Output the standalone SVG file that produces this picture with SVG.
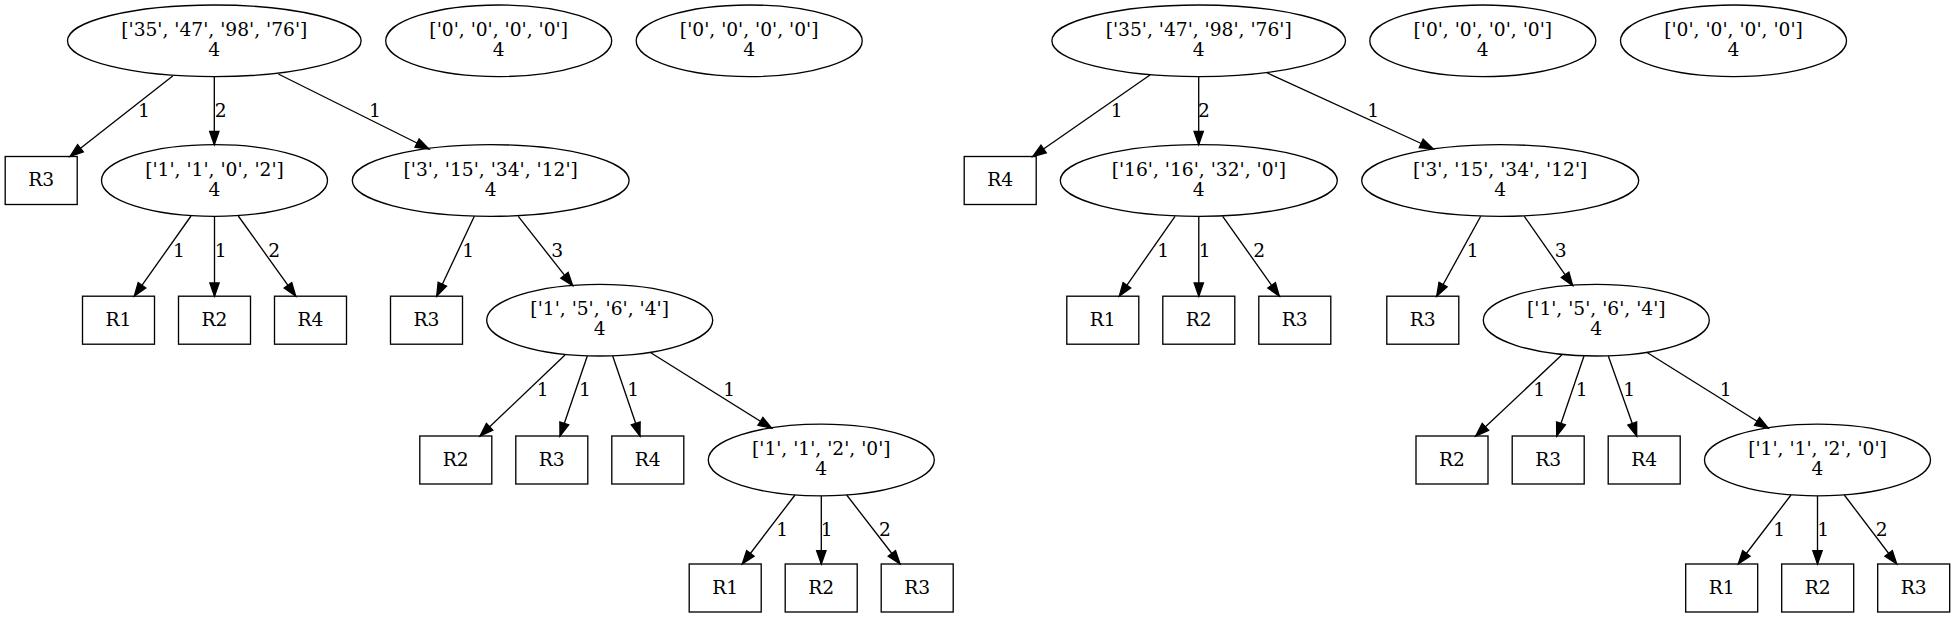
<svg xmlns="http://www.w3.org/2000/svg" width="1955" height="617" viewBox="0 0 1955 617">
<style>
.n ellipse, .n rect { fill: none; stroke: #000; stroke-width: 1.33; }
text { font-family: "DejaVu Serif", "Liberation Serif", serif; font-size: 18.67px; fill: #000; text-anchor: middle; }
.e line { stroke: #000; stroke-width: 1.33; marker-end: url(#arr); }
</style>
<defs>
<marker id="arr" markerUnits="userSpaceOnUse" markerWidth="18" markerHeight="14" refX="13.3" refY="4.67" orient="auto" overflow="visible">
<path d="M0,0 L13.3,4.67 L0,9.33 Z" fill="#000" stroke="#000" stroke-width="1.33"/>
</marker>
</defs>
<rect width="1955" height="617" fill="#fff"/>

<!-- Left tree -->
<g id="L_A" class="n"><ellipse cx="214.3" cy="40.8" rx="146.8" ry="35.8"/><text x="214.3" y="35.8">['35', '47', '98', '76']</text><text x="214.3" y="55.8">4</text></g>
<g id="L_Z1" class="n"><ellipse cx="498.7" cy="40.8" rx="113" ry="35.8"/><text x="498.7" y="35.8">['0', '0', '0', '0']</text><text x="498.7" y="55.8">4</text></g>
<g id="L_Z2" class="n"><ellipse cx="749.2" cy="40.8" rx="113" ry="35.8"/><text x="749.2" y="35.8">['0', '0', '0', '0']</text><text x="749.2" y="55.8">4</text></g>
<g id="L_R3a" class="n"><rect x="5.2" y="156.5" width="72" height="48"/><text x="41.2" y="186.1">R3</text></g>
<g id="L_B" class="n"><ellipse cx="214.5" cy="180.5" rx="113" ry="35.8"/><text x="214.5" y="175.5">['1', '1', '0', '2']</text><text x="214.5" y="195.5">4</text></g>
<g id="L_C" class="n"><ellipse cx="490.7" cy="180.5" rx="138.4" ry="35.8"/><text x="490.7" y="175.5">['3', '15', '34', '12']</text><text x="490.7" y="195.5">4</text></g>
<g id="L_R1b" class="n"><rect x="82.5" y="296.2" width="72" height="48"/><text x="118.5" y="325.8">R1</text></g>
<g id="L_R2b" class="n"><rect x="178.5" y="296.2" width="72" height="48"/><text x="214.5" y="325.8">R2</text></g>
<g id="L_R4b" class="n"><rect x="274.5" y="296.2" width="72" height="48"/><text x="310.5" y="325.8">R4</text></g>
<g id="L_R3c" class="n"><rect x="390.5" y="296.2" width="72" height="48"/><text x="426.5" y="325.8">R3</text></g>
<g id="L_D" class="n"><ellipse cx="599.7" cy="320.2" rx="113" ry="35.8"/><text x="599.7" y="315.2">['1', '5', '6', '4']</text><text x="599.7" y="335.2">4</text></g>
<g id="L_R2d" class="n"><rect x="419.8" y="436" width="72" height="48"/><text x="455.8" y="465.6">R2</text></g>
<g id="L_R3d" class="n"><rect x="515.8" y="436" width="72" height="48"/><text x="551.8" y="465.6">R3</text></g>
<g id="L_R4d" class="n"><rect x="611.8" y="436" width="72" height="48"/><text x="647.8" y="465.6">R4</text></g>
<g id="L_E" class="n"><ellipse cx="821.3" cy="460" rx="113" ry="35.8"/><text x="821.3" y="455">['1', '1', '2', '0']</text><text x="821.3" y="475">4</text></g>
<g id="L_R1e" class="n"><rect x="689.2" y="564" width="72" height="48"/><text x="725.2" y="593.6">R1</text></g>
<g id="L_R2e" class="n"><rect x="785.2" y="564" width="72" height="48"/><text x="821.2" y="593.6">R2</text></g>
<g id="L_R3e" class="n"><rect x="881.2" y="564" width="72" height="48"/><text x="917.2" y="593.6">R3</text></g>

<!-- Right tree -->
<g id="R_A" class="n"><ellipse cx="1198.7" cy="40.8" rx="146.8" ry="35.8"/><text x="1198.7" y="35.8">['35', '47', '98', '76']</text><text x="1198.7" y="55.8">4</text></g>
<g id="R_Z1" class="n"><ellipse cx="1482.8" cy="40.8" rx="113" ry="35.8"/><text x="1482.8" y="35.8">['0', '0', '0', '0']</text><text x="1482.8" y="55.8">4</text></g>
<g id="R_Z2" class="n"><ellipse cx="1733.5" cy="40.8" rx="113" ry="35.8"/><text x="1733.5" y="35.8">['0', '0', '0', '0']</text><text x="1733.5" y="55.8">4</text></g>
<g id="R_R4a" class="n"><rect x="964.2" y="156.5" width="72" height="48"/><text x="1000.2" y="186.1">R4</text></g>
<g id="R_B" class="n"><ellipse cx="1198.8" cy="180.5" rx="138.5" ry="35.8"/><text x="1198.8" y="175.5">['16', '16', '32', '0']</text><text x="1198.8" y="195.5">4</text></g>
<g id="R_C" class="n"><ellipse cx="1500.2" cy="180.5" rx="138.5" ry="35.8"/><text x="1500.2" y="175.5">['3', '15', '34', '12']</text><text x="1500.2" y="195.5">4</text></g>
<g id="R_R1b" class="n"><rect x="1066.8" y="296.2" width="72" height="48"/><text x="1102.8" y="325.8">R1</text></g>
<g id="R_R2b" class="n"><rect x="1162.8" y="296.2" width="72" height="48"/><text x="1198.8" y="325.8">R2</text></g>
<g id="R_R3b" class="n"><rect x="1258.8" y="296.2" width="72" height="48"/><text x="1294.8" y="325.8">R3</text></g>
<g id="R_R3c" class="n"><rect x="1386.8" y="296.2" width="72" height="48"/><text x="1422.8" y="325.8">R3</text></g>
<g id="R_D" class="n"><ellipse cx="1596.3" cy="320.2" rx="113" ry="35.8"/><text x="1596.3" y="315.2">['1', '5', '6', '4']</text><text x="1596.3" y="335.2">4</text></g>
<g id="R_R2d" class="n"><rect x="1416" y="436" width="72" height="48"/><text x="1452" y="465.6">R2</text></g>
<g id="R_R3d" class="n"><rect x="1512.2" y="436" width="72" height="48"/><text x="1548.2" y="465.6">R3</text></g>
<g id="R_R4d" class="n"><rect x="1608.2" y="436" width="72" height="48"/><text x="1644.2" y="465.6">R4</text></g>
<g id="R_E" class="n"><ellipse cx="1817.5" cy="460" rx="113" ry="35.8"/><text x="1817.5" y="455">['1', '1', '2', '0']</text><text x="1817.5" y="475">4</text></g>
<g id="R_R1e" class="n"><rect x="1685.7" y="564" width="72" height="48"/><text x="1721.7" y="593.6">R1</text></g>
<g id="R_R2e" class="n"><rect x="1781.7" y="564" width="72" height="48"/><text x="1817.7" y="593.6">R2</text></g>
<g id="R_R3e" class="n"><rect x="1877.7" y="564" width="72" height="48"/><text x="1913.7" y="593.6">R3</text></g>

<g id="connectors" class="e">
<line x1="172.7" y1="76" x2="70" y2="156.5"/>
<line x1="214.3" y1="76.6" x2="214.3" y2="144.7"/>
<line x1="278.3" y1="74" x2="429" y2="149"/>
<line x1="191" y1="216" x2="134.3" y2="296.2"/>
<line x1="214.5" y1="216.3" x2="214.5" y2="296.2"/>
<line x1="238.3" y1="216" x2="295.7" y2="296.2"/>
<line x1="474.3" y1="216.3" x2="436.7" y2="296.2"/>
<line x1="518.3" y1="216.3" x2="572.7" y2="285.7"/>
<line x1="565" y1="355" x2="480" y2="436"/>
<line x1="587.3" y1="356" x2="560" y2="436"/>
<line x1="612.7" y1="356" x2="640" y2="436"/>
<line x1="650" y1="352.3" x2="771.7" y2="428.3"/>
<line x1="795" y1="495" x2="742.3" y2="564"/>
<line x1="821.3" y1="495.8" x2="821.3" y2="564"/>
<line x1="846.7" y1="495" x2="900" y2="564"/>
<line x1="1150" y1="75" x2="1032.7" y2="156.5"/>
<line x1="1198.7" y1="76.6" x2="1198.7" y2="144.7"/>
<line x1="1266.7" y1="72.7" x2="1433.3" y2="149"/>
<line x1="1175" y1="216.3" x2="1119.3" y2="296.2"/>
<line x1="1198.8" y1="216.3" x2="1198.8" y2="296.2"/>
<line x1="1222.7" y1="216.3" x2="1279.3" y2="296.2"/>
<line x1="1480.7" y1="216.3" x2="1436.7" y2="296.2"/>
<line x1="1524.3" y1="216.3" x2="1572.7" y2="285.7"/>
<line x1="1561.7" y1="355" x2="1475.7" y2="436"/>
<line x1="1584" y1="356" x2="1556.7" y2="436"/>
<line x1="1608.3" y1="356" x2="1636.7" y2="436"/>
<line x1="1646.7" y1="352.3" x2="1768.3" y2="428.3"/>
<line x1="1791" y1="495" x2="1738.3" y2="564"/>
<line x1="1817.5" y1="495.8" x2="1817.5" y2="564"/>
<line x1="1844.3" y1="495" x2="1896.7" y2="564"/>
<text x="144" y="116.7">1</text>
<text x="220.7" y="116.7">2</text>
<text x="375" y="116.7">1</text>
<text x="179" y="256.7">1</text>
<text x="220.7" y="256.7">1</text>
<text x="274.3" y="256.7">2</text>
<text x="468.3" y="256.7">1</text>
<text x="557.3" y="256.7">3</text>
<text x="542.7" y="396">1</text>
<text x="585" y="396">1</text>
<text x="633.3" y="396">1</text>
<text x="729.3" y="396">1</text>
<text x="782.3" y="536">1</text>
<text x="826.7" y="536">1</text>
<text x="885" y="536">2</text>
<text x="1116.7" y="116.7">1</text>
<text x="1204" y="116.7">2</text>
<text x="1373.3" y="116.7">1</text>
<text x="1163.3" y="256.7">1</text>
<text x="1204.7" y="256.7">1</text>
<text x="1259.3" y="256.7">2</text>
<text x="1472.7" y="256.7">1</text>
<text x="1560.7" y="256.7">3</text>
<text x="1539.3" y="396">1</text>
<text x="1581.7" y="396">1</text>
<text x="1629.3" y="396">1</text>
<text x="1725.7" y="396">1</text>
<text x="1779.3" y="536">1</text>
<text x="1823.3" y="536">1</text>
<text x="1881.7" y="536">2</text>
</g>
</svg>
